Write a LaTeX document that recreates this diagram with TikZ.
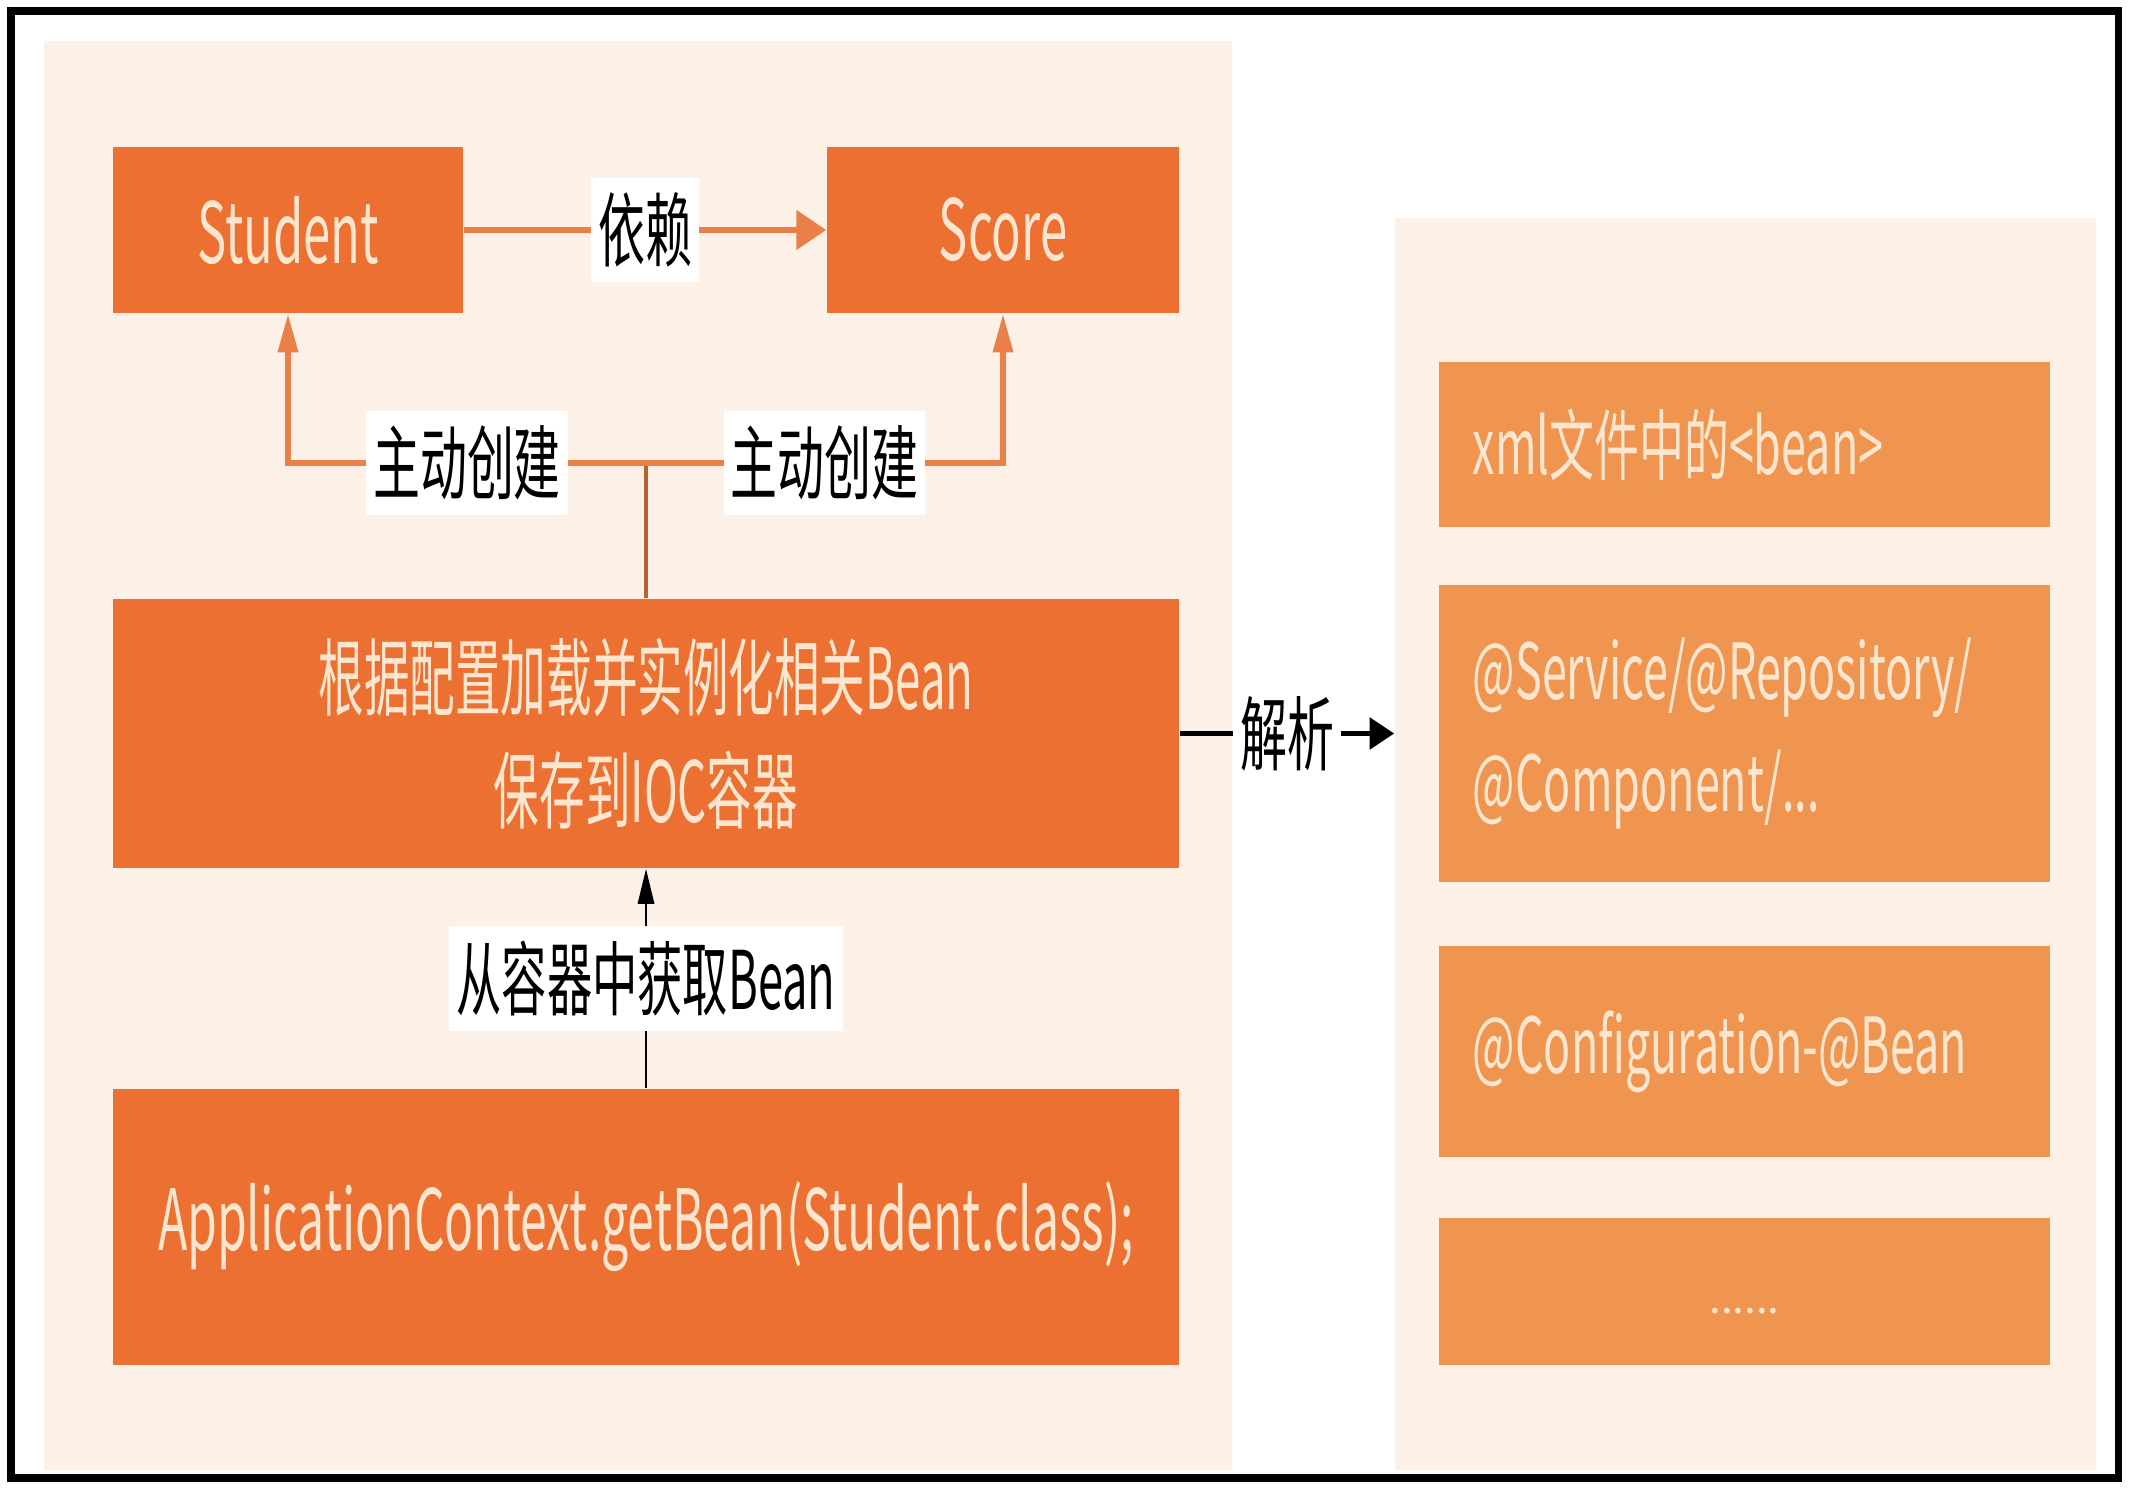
\documentclass[tikz,border=0pt]{standalone}
\usepackage{fontspec}
\usepackage{graphicx}
\newfontfamily\cjk{Noto Sans CJK SC}
\usetikzlibrary{arrows.meta}
\definecolor{boxorange}{HTML}{EC7031}
\definecolor{lightorange}{HTML}{F0954F}
\definecolor{panel}{HTML}{FDF0E6}
\definecolor{cream}{HTML}{FDE6CF}
\definecolor{lineorange}{HTML}{EA8048}
\definecolor{linebrown}{HTML}{B5642F}
\newcommand{\narrow}[2][0.58]{\scalebox{#1}[1]{#2}}

\begin{document}
\begin{tikzpicture}[x=0.01cm,y=-0.01cm,
	box/.style={fill=boxorange,text=cream,font=\cjk\fontsize{24}{32}\selectfont,inner sep=0pt,align=center},
	side/.style={fill=lightorange,text=cream,font=\cjk\fontsize{22}{32}\selectfont,minimum width=6.11cm,text width=5.43cm,align=left,inner sep=0pt},
	tag/.style={fill=white,text=black,font=\cjk\fontsize{23}{28}\selectfont,inner xsep=0.07cm,inner ysep=0.15cm}]
	\useasboundingbox (0,0) rectangle (2134,1492);
	\node[fill=panel,inner sep=0pt,minimum width=11.88cm,minimum height=14.29cm] (leftpanel) at (638,755.5) {};
	\node[fill=panel,inner sep=0pt,minimum width=7.01cm,minimum height=12.52cm] (rightpanel) at (1745.5,844) {};
	\draw[line width=2pt] (11,11) rectangle (2118,1478);

	\node[box,minimum width=3.5cm,minimum height=1.66cm] (stu) at (288,230) {\narrow{Student}};
	\node[box,minimum width=3.52cm,minimum height=1.66cm] (score) at (1003,230) {\narrow{Score}};
	\node[box,minimum width=10.66cm,minimum height=2.69cm] (load) at (646,733.5) {\narrow[0.54]{根据配置加载并实例化相关Bean}\\\narrow[0.54]{保存到IOC容器}};
	\node[box,minimum width=10.66cm,minimum height=2.76cm] (get) at (646,1227) {\narrow[0.57]{ApplicationContext.getBean(Student.class);}};

	\node[side,minimum height=1.65cm] (xml) at (1744.5,444.5) {\narrow{xml文件中的<bean>}};
	\node[side,minimum height=2.97cm] (anno) at (1744.5,733.5) {\narrow{@Service/@Repository/}\\\narrow{@Component/...}};
	\node[side,minimum height=2.11cm] (conf) at (1744.5,1051.5) {\narrow{@Configuration-@Bean}};
	\node[side,minimum height=1.47cm,align=center,font=\cjk\fontsize{12}{14}\selectfont] (more) at (1744.5,1291.5) {\rule{0pt}{0.44cm}......};

	\coordinate (fork) at (646,463);
	\draw[lineorange,line width=1.6pt,-{Triangle[length=8.5pt,width=11pt]}] (stu) -- node[tag]{\narrow{依赖}} (score);
	\draw[linebrown,line width=0.9pt] (load) -- (fork);
	\draw[lineorange,line width=1.6pt,-{Triangle[length=11pt,width=5.5pt]}] (fork) -- node[tag]{\narrow{主动创建}} (fork -| stu) -- (stu);
	\draw[lineorange,line width=1.6pt,-{Triangle[length=11pt,width=5.5pt]}] (fork) -- node[tag]{\narrow{主动创建}} (fork -| score) -- (score);
	\draw[line width=0.8pt,-{Triangle[length=10pt,width=4.6pt]}] (get) -- node[tag]{\narrow[0.56]{从容器中获取Bean}} (load);
	\draw[line width=1.2pt,-{Triangle[length=7pt,width=9pt]}] (load) -- node[tag,inner ysep=0.05cm]{\narrow{解析}} (load -| rightpanel.west);
\end{tikzpicture}
\end{document}
